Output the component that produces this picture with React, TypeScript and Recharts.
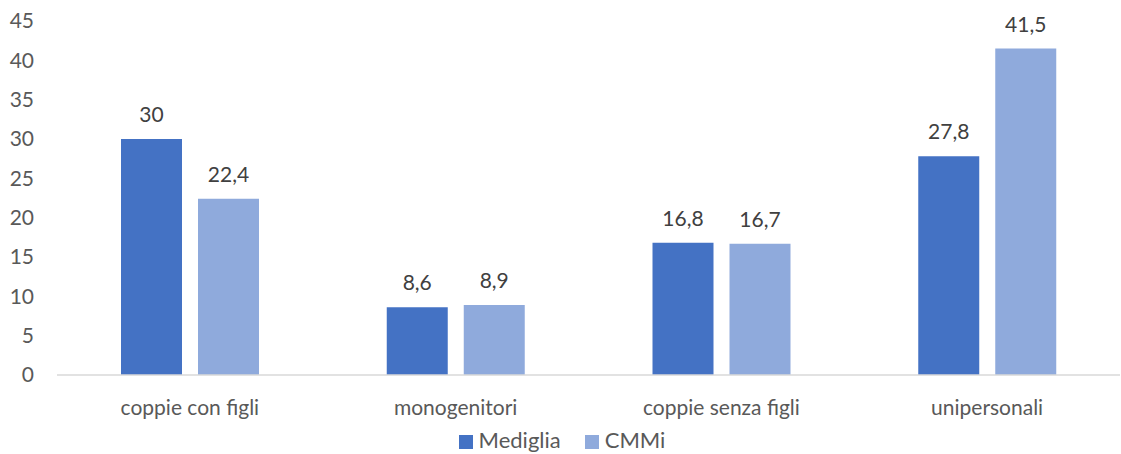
import React from 'react'
import { BarChart, Bar, XAxis, YAxis, Legend, LabelList } from 'recharts'

// ── Dati ──────────────────────────────────────────────────────────────────────

const categories = ['coppie con figli', 'monogenitori', 'coppie senza figli', 'unipersonali']
const mediglia = [30, 8.6, 16.8, 27.8]
const cmmi = [22.4, 8.9, 16.7, 41.5]
const yTicks = [0, 5, 10, 15, 20, 25, 30, 35, 40, 45]

const SERIES = [
  { key: 'Mediglia', color: '#4472C4' },
  { key: 'CMMi', color: '#8FAADC' },
]

const data = categories.map((c, i) => ({ name: c, Mediglia: mediglia[i], CMMi: cmmi[i] }))

const FONT = 'Lato, "Open Sans", sans-serif'
const TEXT = '#595959'
const FS = 21

const fmt = (v: unknown) => String(v).replace('.', ',')

// ── Legenda ───────────────────────────────────────────────────────────────────

function CustomLegend() {
  return (
    <div style={styles.legend}>
      {SERIES.map(s => (
        <span key={s.key} style={styles.legendItem}>
          <span style={{ ...styles.swatch, background: s.color }} />
          {s.key}
        </span>
      ))}
    </div>
  )
}

// ── Componente principale ─────────────────────────────────────────────────────

export default function App() {
  const tickStyle = { fill: TEXT, fontSize: FS, fontFamily: FONT, fontVariantLigatures: 'none' }
  return (
    <div style={styles.page}>
      <BarChart
        width={1121}
        height={454}
        data={data}
        margin={{ top: 21, right: 1, left: 0, bottom: 0 }}
        barCategoryGap={64}
        barGap={16}
      >
        <XAxis
          dataKey="name"
          height={57}
          tickLine={false}
          axisLine={{ stroke: '#D9D9D9', strokeWidth: 1.5 }}
          tickSize={0}
          tickMargin={25}
          tick={tickStyle}
        />
        <YAxis
          width={57}
          domain={[0, 45]}
          ticks={yTicks}
          axisLine={false}
          tickLine={false}
          tickSize={0}
          tickMargin={23}
          tick={tickStyle}
        />
        <Legend verticalAlign="bottom" height={22} content={<CustomLegend />} />
        {SERIES.map(s => (
          <Bar key={s.key} dataKey={s.key} fill={s.color} isAnimationActive={false}>
            <LabelList
              dataKey={s.key}
              position="top"
              offset={17}
              formatter={fmt}
              style={{ fill: '#404040', fontSize: FS, fontFamily: FONT }}
            />
          </Bar>
        ))}
      </BarChart>
    </div>
  )
}

// ── Stili ─────────────────────────────────────────────────────────────────────

const styles = {
  page: { position: 'fixed', left: 0, top: 0, width: 1121, height: 454, background: '#fff', overflow: 'hidden' },
  legend: {
    display: 'flex',
    justifyContent: 'center',
    gap: '24px',
    fontSize: '22px',
    fontFamily: FONT,
    color: TEXT,
    lineHeight: '22px',
    height: '22px',
    paddingLeft: '4px',
    whiteSpace: 'nowrap',
    position: 'relative',
    top: '-3px',
  },
  legendItem: { display: 'inline-flex', alignItems: 'center' },
  swatch: {
    display: 'inline-block',
    width: '14px',
    height: '14px',
    marginRight: '6px',
    position: 'relative',
    top: '2px',
  },
} as const
